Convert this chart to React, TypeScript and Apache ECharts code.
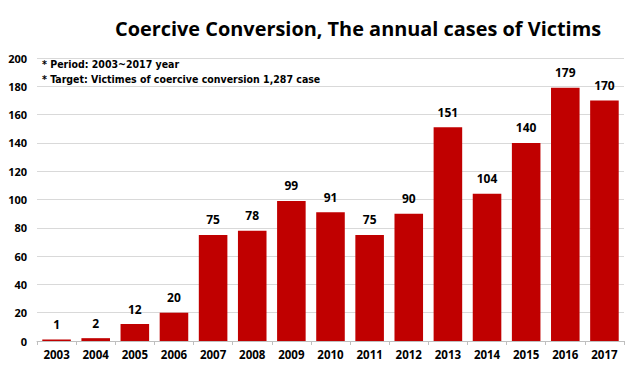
import React, { useEffect, useRef } from "react";
import * as echarts from "echarts";

const years = ["2003","2004","2005","2006","2007","2008","2009","2010","2011","2012","2013","2014","2015","2016","2017"];
const cases = [1, 2, 12, 20, 75, 78, 99, 91, 75, 90, 151, 104, 140, 179, 170];
const titleText = "Coercive Conversion, The annual cases of Victims";
const notes = ["* Period: 2003~2017 year", "* Target: Victimes of coercive conversion 1,287 case"];

export default function App() {
  const ref = useRef<HTMLDivElement>(null);
  useEffect(() => {
    if (!ref.current) return;
    const chart = echarts.init(ref.current, null, { renderer: "svg" });
    chart.setOption({
      animation: false,
      backgroundColor: "#ffffff",
      title: {
        text: titleText,
        left: 353,
        top: 13,
        textAlign: "center",
        textStyle: { fontFamily: "Open Sans", fontSize: 19.9, fontWeight: "bold", color: "#000" },
      },
      graphic: [
        {
          type: "text",
          left: 42,
          top: 56,
          style: {
            text: notes.join("\n"),
            font: "bold 10.5px 'DejaVu Sans Condensed', 'Liberation Sans Narrow', sans-serif",
            lineHeight: 15,
            fill: "#000",
          },
        },
      ],
      grid: { left: 37, right: 16, top: 58, bottom: 29, containLabel: false },
      xAxis: {
        type: "category",
        data: years,
        axisLine: { lineStyle: { color: "#bfbfbf" } },
        axisTick: { show: true, lineStyle: { color: "#bfbfbf" }, length: 4 },
        axisLabel: { fontFamily: "Open Sans", fontWeight: "bold", fontSize: 11.5, color: "#000", margin: 7 },
      },
      yAxis: {
        type: "value",
        min: 0,
        max: 200,
        interval: 20,
        axisLine: { show: false },
        axisTick: { show: false },
        splitLine: { lineStyle: { color: "#d9d9d9" } },
        axisLabel: { fontFamily: "Open Sans", fontWeight: "bold", fontSize: 11, color: "#000", margin: 10 },
      },
      series: [
        {
          type: "bar",
          data: cases,
          barCategoryGap: "27%",
          itemStyle: { color: "#c00000" },
          label: {
            show: true,
            position: "top",
            distance: 9,
            fontFamily: "Open Sans",
            fontWeight: "bold",
            fontSize: 12,
            color: "#000",
          },
        },
      ],
    });
    return () => chart.dispose();
  }, []);
  return <div ref={ref} style={{ width: 640, height: 370, position: "absolute", left: 0, top: 0 }} />;
}
